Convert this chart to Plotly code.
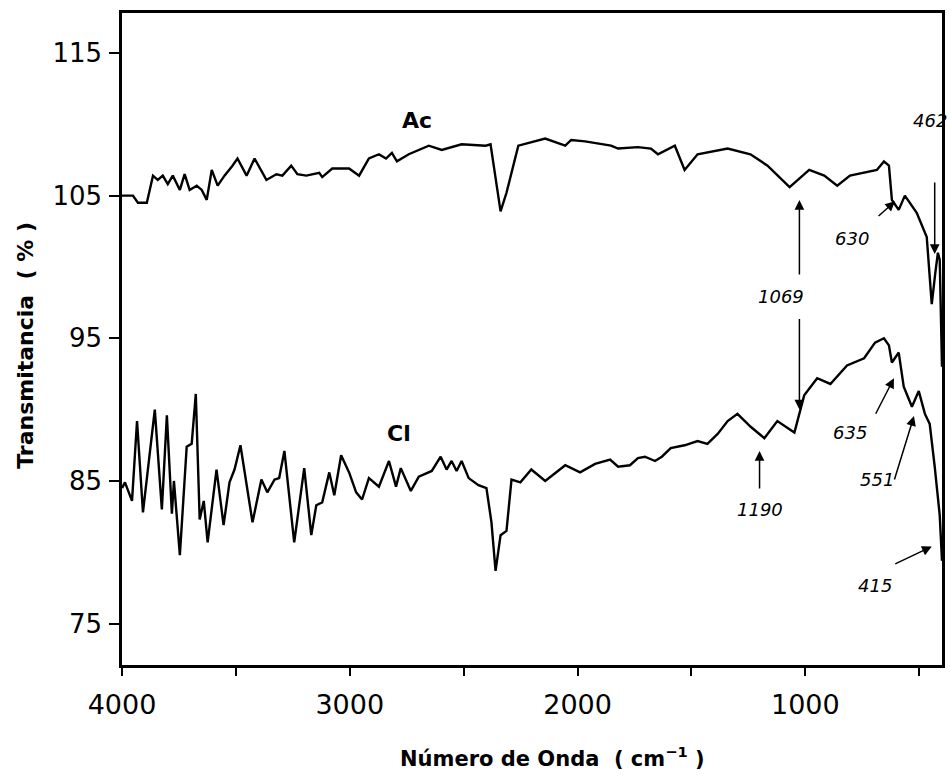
import plotly.graph_objects as go

# ---- data ----
ac_wn = [4000, 3952, 3930, 3891, 3864, 3843, 3821, 3799, 3777, 3746, 3725, 3703, 3672, 3650,
         3628, 3606, 3580, 3550, 3515, 3493, 3453, 3418, 3366, 3322, 3296, 3257, 3230, 3191,
         3134, 3121, 3077, 3003, 2959, 2916, 2872, 2841, 2815, 2793, 2741, 2653, 2596, 2509,
         2404, 2382, 2338, 2312, 2260, 2142, 2054, 2028, 1967, 1853, 1822, 1735, 1678, 1647,
         1573, 1530, 1473, 1341, 1241, 1166, 1069, 983, 917, 860, 804, 686, 655, 633, 620,
         590, 563, 511, 467, 445, 430, 418, 410, 404, 400]
ac_t = [105.0, 105.0, 104.5, 104.5, 106.4, 106.1, 106.4, 105.8, 106.4, 105.4, 106.5, 105.4,
        105.7, 105.4, 104.7, 106.8, 105.7, 106.4, 107.1, 107.6, 106.4, 107.6, 106.1, 106.5,
        106.4, 107.1, 106.5, 106.4, 106.6, 106.3, 106.9, 106.9, 106.4, 107.6, 107.9, 107.6,
        108.0, 107.4, 107.9, 108.5, 108.2, 108.6, 108.5, 108.6, 103.9, 105.2, 108.5, 109.0,
        108.5, 108.9, 108.8, 108.5, 108.3, 108.4, 108.3, 107.9, 108.5, 106.8, 107.9, 108.3,
        107.9, 107.1, 105.6, 106.8, 106.4, 105.7, 106.4, 106.8, 107.4, 107.1, 104.7, 104.0,
        105.0, 103.8, 102.1, 97.4, 99.5, 101.0, 100.5, 96.0, 93.0]

cl_wn = [4000, 3987, 3956, 3934, 3908, 3856, 3825, 3803, 3781, 3772, 3760, 3746, 3716, 3694,
         3676, 3659, 3641, 3624, 3585, 3554, 3528, 3506, 3480, 3427, 3388, 3362, 3330, 3310,
         3287, 3244, 3200, 3169, 3147, 3121, 3090, 3068, 3038, 3003, 2972, 2946, 2916, 2872,
         2828, 2797, 2776, 2732, 2697, 2640, 2601, 2575, 2553, 2531, 2509, 2478, 2435, 2400,
         2378, 2360, 2338, 2312, 2290, 2251, 2203, 2142, 2054, 1989, 1923, 1857, 1822, 1770,
         1735, 1704, 1660, 1630, 1591, 1530, 1473, 1430, 1385, 1341, 1298, 1240, 1180, 1123,
         1048, 1005, 948, 890, 817, 742, 694, 655, 633, 620, 590, 568, 532, 502, 475, 454,
         432, 410, 400]
cl_t = [84.5, 84.9, 83.6, 89.2, 82.8, 90.0, 83.0, 89.6, 82.7, 85.0, 82.6, 79.8, 87.4, 87.6,
        91.1, 82.3, 83.6, 80.7, 85.8, 81.9, 84.9, 85.8, 87.5, 82.1, 85.1, 84.2, 85.1, 85.2,
        87.1, 80.7, 85.9, 81.2, 83.3, 83.5, 85.6, 84.0, 86.8, 85.6, 84.2, 83.7, 85.2, 84.6,
        86.4, 84.6, 85.9, 84.3, 85.3, 85.7, 86.7, 85.8, 86.4, 85.7, 86.4, 85.2, 84.7, 84.5,
        82.1, 78.7, 81.2, 81.5, 85.1, 84.9, 85.8, 85.0, 86.1, 85.6, 86.2, 86.5, 86.0, 86.1,
        86.6, 86.7, 86.4, 86.7, 87.3, 87.5, 87.8, 87.6, 88.3, 89.2, 89.7, 88.8, 88.0, 89.2,
        88.4, 91.0, 92.2, 91.8, 93.1, 93.6, 94.7, 95.0, 94.5, 93.3, 94.0, 91.6, 90.2, 91.3,
        89.7, 89.0, 86.0, 82.6, 79.4]

x_ticks = [4000, 3000, 2000, 1000]
x_tick_text = ["4000", "3000", "2000", "1000"]
y_ticks = [75, 85, 95, 105, 115]
y_tick_text = ["75", "85", "95", "105", "115"]

# peak labels: (text, text_x, text_y)
peak_labels = [("462", 452, 110.3), ("630", 795, 102.0), ("1069", 1109, 97.9),
               ("1190", 1197, 83.0), ("635", 803, 88.4), ("551", 685, 85.1),
               ("415", 694, 77.7)]
# arrows: (head_x, head_y, ax_px, ay_px)
arrows = [(432, 100.9, 0, -73), (606, 104.6, -18, 16), (1026, 104.7, 0, 76),
          (1026, 90.0, 0, -92), (1201, 87.1, 0, 39), (611, 92.2, -19, 37),
          (523, 89.55, -20, 65), (445, 80.4, -38, 18)]

fig = go.Figure()
fig.add_trace(go.Scatter(x=ac_wn, y=ac_t, mode="lines", name="Ac",
                         line=dict(color="black", width=2.4), showlegend=False))
fig.add_trace(go.Scatter(x=cl_wn, y=cl_t, mode="lines", name="Cl",
                         line=dict(color="black", width=2.4), showlegend=False))

ann = []
for t, x, y in peak_labels:
    ann.append(dict(x=x, y=y, xref="x", yref="y", text="<i>" + t + "</i>", showarrow=False,
                    xanchor="center", yanchor="middle",
                    font=dict(family="DejaVu Sans", size=18, color="black")))
for hx, hy, axp, ayp in arrows:
    ann.append(dict(x=hx, y=hy, xref="x", yref="y", text="", showarrow=True,
                    ax=axp, ay=ayp, arrowhead=2, arrowsize=1.3, arrowwidth=1.5,
                    arrowcolor="black"))
ann.append(dict(x=2706, y=110.3, xref="x", yref="y", text="<b>Ac</b>", showarrow=False,
                xanchor="center", yanchor="middle",
                font=dict(family="DejaVu Sans", size=22, color="black")))
ann.append(dict(x=2784, y=88.3, xref="x", yref="y", text="<b>Cl</b>", showarrow=False,
                xanchor="center", yanchor="middle",
                font=dict(family="DejaVu Sans", size=22, color="black")))
ann.append(dict(x=-0.118, y=0.49, xref="paper", yref="paper", textangle=-90,
                xanchor="center", yanchor="middle",
                text="<b>Transmitancia  ( % )</b>", showarrow=False,
                font=dict(family="DejaVu Sans", size=22, color="black")))
ann.append(dict(x=0.525, y=-0.141, xref="paper", yref="paper",
                xanchor="center", yanchor="middle",
                text="<b>Número de Onda  ( cm<sup>−1</sup> )</b>", showarrow=False,
                font=dict(family="DejaVu Sans", size=21, color="black")))

fig.update_layout(
    width=951, height=782,
    margin=dict(l=122, r=6, t=13, b=117),
    paper_bgcolor="white", plot_bgcolor="white",
    annotations=ann,
    xaxis=dict(range=[4000, 400], tickvals=x_ticks, ticktext=x_tick_text,
               ticks="outside", ticklen=8, tickwidth=2, tickcolor="black",
               ticklabelstandoff=6,
               showline=True, linecolor="black", linewidth=2.5, mirror=True,
               showgrid=False, zeroline=False,
               minor=dict(ticks="outside", dtick=500, tick0=0, ticklen=8,
                          tickwidth=2, tickcolor="black", showgrid=False),
               tickfont=dict(family="DejaVu Sans", size=27, color="black")),
    yaxis=dict(range=[72.1, 117.8], tickvals=y_ticks, ticktext=y_tick_text,
               ticks="outside", ticklen=10, tickwidth=2, tickcolor="black",
               ticklabelstandoff=2,
               showline=True, linecolor="black", linewidth=2.5, mirror=True,
               showgrid=False, zeroline=False,
               tickfont=dict(family="DejaVu Sans", size=26, color="black")),
)

fig.write_html("out.html")
